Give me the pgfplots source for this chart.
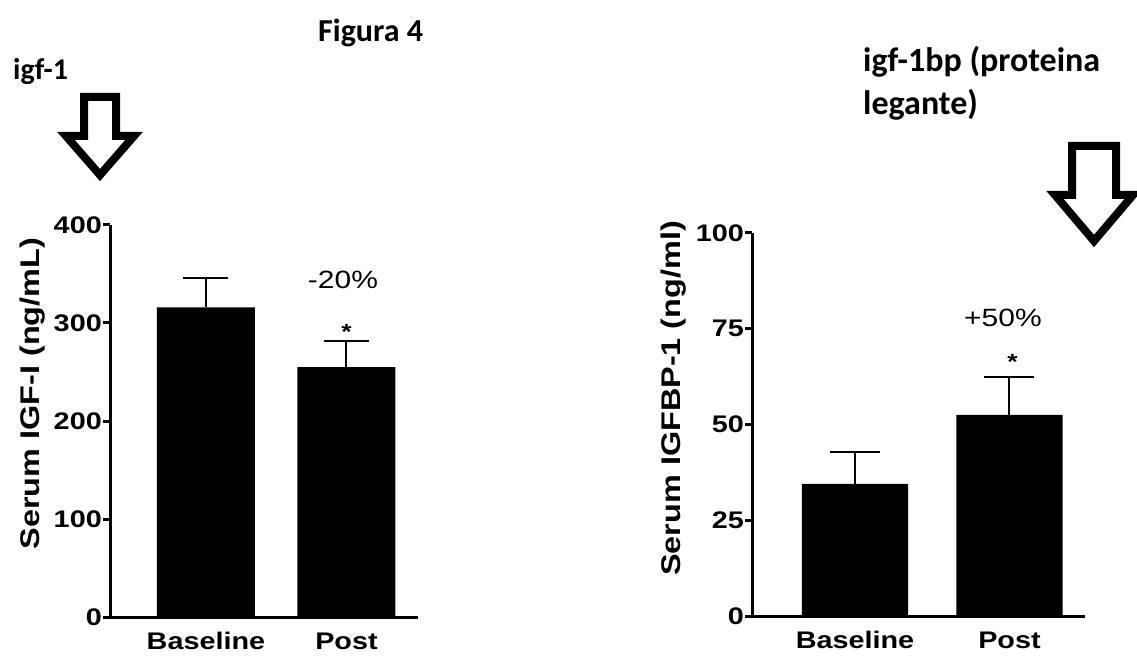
\documentclass[border=0pt]{standalone}
\usepackage{fontspec}
\usepackage{pgfplots}
\pgfplotsset{compat=1.18}
\newfontfamily\carl{Carlito}
\newfontfamily\arl[FakeStretch=1.2]{Liberation Sans}

\pgfplotsset{
  mystyle/.style={
    scale only axis,
    axis x line*=bottom, axis y line*=left,
    axis line style={line width=3pt, black},
    ytick style={line width=3pt, black},
    tick align=outside, major tick length=7pt,
    xtick={0,1}, xticklabels={Baseline,Post},
    xtick style={draw=none},
    ymin=0,
    clip=false,
    /pgf/number format/assume math mode=true,
    yticklabel style={font=\arl\bfseries\fontsize{24}{26}\selectfont, inner sep=1pt},
    xticklabel style={font=\arl\bfseries\fontsize{24}{26}\selectfont, anchor=base, yshift=-25pt},
  },
  mybar/.style={ybar, bar shift=0pt, fill=black, draw=none,
    error bars/y dir=plus, error bars/y explicit,
    error bars/error mark=|,
    error bars/error bar style={draw=black, line width=2pt},
    error bars/error mark options={draw=black, line width=2pt, mark size=#1}},
}

\begin{document}
\begin{tikzpicture}
\useasboundingbox (0pt,0pt) rectangle (1137pt,664pt);

% headings
\node[anchor=base west, inner sep=0pt, font=\carl\bfseries\fontsize{32}{36}\selectfont] at (318pt,622pt) {Figura 4};
\node[anchor=base west, inner sep=0pt, font=\carl\bfseries\fontsize{30}{34}\selectfont] at (13pt,584pt) {igf-1};
\node[anchor=base west, inner sep=0pt, font=\carl\bfseries\fontsize{34}{38}\selectfont] at (863pt,592pt) {igf-1bp (proteina};
\node[anchor=base west, inner sep=0pt, font=\carl\bfseries\fontsize{34}{38}\selectfont] at (863pt,549pt) {legante)};

% hollow arrows
\draw[line width=8pt, line join=miter, fill=white]
  (84pt,567pt) -- (116pt,567pt) -- (116pt,528pt) -- (134pt,528pt) -- (100pt,489pt) -- (66pt,528pt) -- (84pt,528pt) -- cycle;
\draw[line width=8pt, line join=miter, fill=white]
  (1072pt,518pt) -- (1116pt,518pt) -- (1116pt,469pt) -- (1133pt,469pt) -- (1094pt,423pt) -- (1055pt,469pt) -- (1072pt,469pt) -- cycle;

% left chart
\begin{axis}[mystyle,
  at={(110pt,47pt)}, anchor=south west,
  width=308pt, height=392pt,
  xmin=-0.683, xmax=1.509, ymax=400,
  ytick={0,100,200,300,400},
  ylabel={Serum IGF-I (ng/mL)},
  every axis y label/.style={at={(axis description cs:-0.25,0.57)}, rotate=90, anchor=center,
    font=\arl\bfseries\fontsize{27}{30}\selectfont},
]
\addplot[bar width=0.6975, mybar=22.5pt] coordinates {(0,316) +- (0,30) (1,255) +- (0,27)};
\node[font=\arl\fontsize{25}{28}\selectfont] at (axis cs:0.975,344) {-20\%};
\node[anchor=base, font=\arl\bfseries\fontsize{22}{24}\selectfont] at (axis cs:1,283) {*};
\end{axis}

% right chart
\begin{axis}[mystyle,
  at={(752pt,48pt)}, anchor=south west,
  width=333pt, height=383pt,
  xmin=-0.6667, xmax=1.489, ymax=100,
  ytick={0,25,50,75,100},
  ylabel={Serum IGFBP-1 (ng/ml)},
  every axis y label/.style={at={(axis description cs:-0.237,0.568)}, rotate=90, anchor=center,
    font=\arl\bfseries\fontsize{27}{30}\selectfont},
]
\addplot[bar width=0.689, mybar=25pt] coordinates {(0,34.5) +- (0,8.3) (1,52.5) +- (0,9.9)};
\node[font=\arl\fontsize{25}{28}\selectfont] at (axis cs:0.958,77.8) {+50\%};
\node[anchor=base, font=\arl\bfseries\fontsize{22}{24}\selectfont] at (axis cs:1.02,64.4) {*};
\end{axis}
\end{tikzpicture}
\end{document}
